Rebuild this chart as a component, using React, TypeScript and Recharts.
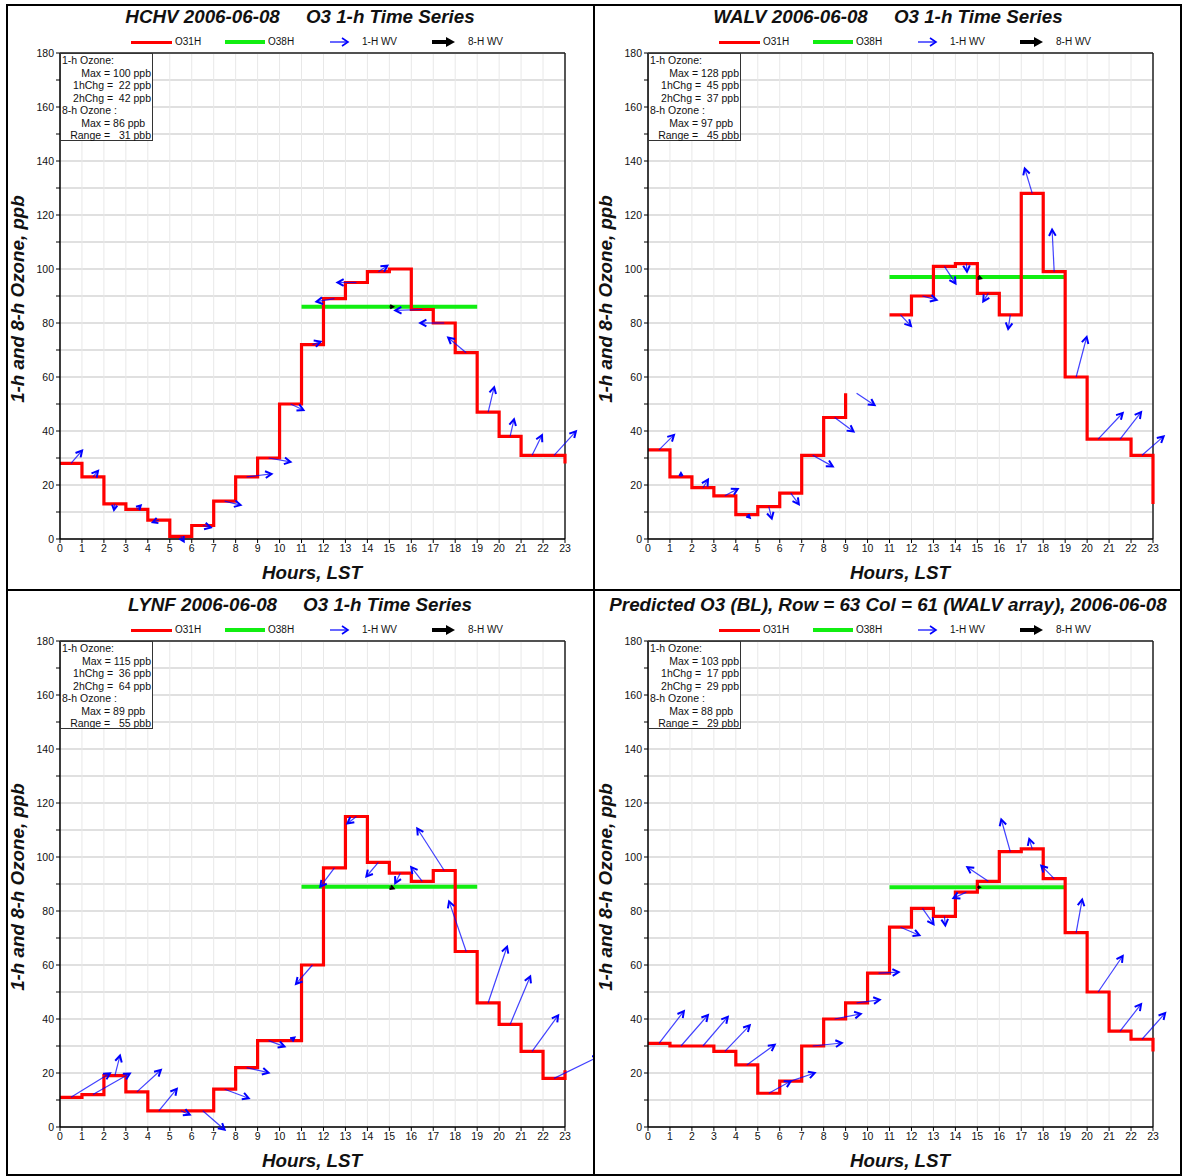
import {
  CartesianGrid,
  ComposedChart,
  Line,
  ReferenceLine,
  Scatter,
  XAxis,
  YAxis,
} from 'recharts';

const HOURS = [0, 1, 2, 3, 4, 5, 6, 7, 8, 9, 10, 11, 12, 13, 14, 15, 16, 17, 18, 19, 20, 21, 22, 23];
const Y_TICKS = [0, 10, 20, 30, 40, 50, 60, 70, 80, 90, 100, 110, 120, 130, 140, 150, 160, 170, 180];
const LEGEND_LABELS = ['O31H', 'O38H', '1-H WV', '8-H WV'];
const X_LABEL = 'Hours, LST';
const Y_LABEL = '1-h and 8-h Ozone, ppb';

// HCHV
const HCHV_O3 = [28, 23, 13, 11, 7, 1, 5, 14, 23, 30, 50, 72, 89, 95, 99, 100, 85, 80, 69, 47, 38, 31, 31, 28];
const HCHV_O8 = 86;
const HCHV_U = [3.7, 1.7, -0.3, 1.3, -2, 1, 2.7, 5.3, 8.3, 7.3, 4.3, 2.7, -6, -6.3, 3, 0, -9, -8, -6, 2, 1.3, 3.3, 7.3];
const HCHV_V = [4.3, 2, -2, 1.3, -0.7, -1.7, -0.7, -1.3, 1, -1.3, -2, 1, -1, 0, 2, 0, -0.3, 0, 5, 8.3, 5.7, 6.7, 8];
const HCHV_WV8 = [1.2, 0];
const HCHV_STATS = [100, 22, 42, 86, 31];

// WALV
const WALV_O3 = [33, 23, 19, 16, 9, 12, 17, 31, 45, 54, null, 83, 90, 101, 102, 91, 83, 128, 99, 60, 37, 37, 31, 13];
const WALV_O8 = 97;
const WALV_U = [5, 0, 1.7, 4.3, 1, 1, 2.7, 6.7, 6.3, 6, null, 3.5, 4.7, 3.7, 0.2, -1.7, -0.7, -2.5, -0.7, 3.5, 8.2, 7, 7.2];
const WALV_V = [5, 1.3, 2.7, 2.3, -1, -4, -3.7, -3.7, -4.7, -4, null, -3.7, -1.3, -5.7, -2.7, -2.7, -4.7, 8.3, 14, 13.3, 8.7, 9, 6.3];
const WALV_WV8 = [1.2, -0.4];
const WALV_STATS = [128, 45, 37, 97, 45];

// LYNF
const LYNF_O3 = [11, 12, 19, 13, 6, 6, 6, 14, 22, 32, 32, 60, 96, 115, 98, 94, 91, 95, 65, 46, 38, 28, 18, 21];
const LYNF_O8 = 89;
const LYNF_U = [13, 12.3, 1.7, 8, 6, 3, 7.3, 8, 7.3, 5.3, 1.3, -5.5, -4.7, -3, -4, -1.7, -3.7, -9, -5.7, 6.3, 6.7, 8.7, 15];
const LYNF_V = [8, 7, 6.7, 7.3, 7.3, -1.3, -6.3, -3, -1.7, -2, 1, -6.3, -6.3, -2.3, -4.7, -3.3, 4.7, 14, 16.7, 18.7, 16, 12, 7.3];
const LYNF_WV8 = [1.4, -0.6];
const LYNF_STATS = [115, 36, 64, 89, 55];

// Predicted (BL)
const PRED_O3 = [31, 30, 30, 28, 23, 12.5, 17, 30, 40, 46, 57, 74, 81, 78, 87, 91, 102, 103, 92, 72, 50, 35.5, 32.5, 28];
const PRED_O8 = 88.8;
const PRED_U = [8.3, 9, 8.3, 8.3, 9.3, 7.3, 8, 9.7, 8.7, 7.7, 6.7, 6.3, 3.7, 0.3, -4.3, -7, -3, -1, -4.3, 2, 8.2, 7, 7.7];
const PRED_V = [10.7, 10.3, 9.7, 8.7, 6.7, 4, 2.7, 1, 1.7, 1, 0.3, -2.7, -5.3, -3, -2, 4.7, 10.7, 3.3, 4.3, 11, 12, 9, 8.7];
const PRED_WV8 = [0.8, 0];
const PRED_STATS = [103, 17, 29, 88, 29];

const PX_PER_MS = 3;
const FONT = '"Liberation Sans", Arial, sans-serif';
const W = 588;
const H = 584;
const M_TOP = 49;
const M_RIGHT = 29;
const Y_W = 54;
const X_H = 49;
const BIG = 18.8;

function WindArrow(props: any) {
  const { cx, cy, payload, color } = props;
  if (cx == null || cy == null) return <g />;
  const dx = payload.u * PX_PER_MS;
  const dy = -payload.v * PX_PER_MS;
  const len = Math.hypot(dx, dy);
  if (len < 1) return <g />;
  const x2 = cx + dx;
  const y2 = cy + dy;
  const ang = Math.atan2(dy, dx);
  const hl = Math.min(7, len * 0.9);
  const a1 = ang + Math.PI - 0.5;
  const a2 = ang + Math.PI + 0.5;
  return (
    <g>
      <line x1={cx} y1={cy} x2={x2} y2={y2} stroke={color} strokeOpacity={0.75} strokeWidth={1.2} />
      <polyline
        points={`${x2 + hl * Math.cos(a1)},${y2 + hl * Math.sin(a1)} ${x2},${y2} ${x2 + hl * Math.cos(a2)},${y2 + hl * Math.sin(a2)}`}
        fill="none"
        stroke={color}
        strokeWidth={2}
      />
    </g>
  );
}

function InfoBox({ stats }: { stats: number[] }) {
  const lines: [string, 'left' | 'right'][] = [
    ['1-h Ozone:', 'left'],
    [`Max = ${stats[0]} ppb`, 'right'],
    [`1hChg =  ${stats[1]} ppb`, 'right'],
    [`2hChg =  ${stats[2]} ppb`, 'right'],
    ['8-h Ozone :', 'left'],
    [`Max = ${stats[3]} ppb  `, 'right'],
    [`Range =   ${stats[4]} pbb`, 'right'],
  ];
  return (
    <div
      style={{
        position: 'absolute',
        left: Y_W,
        top: M_TOP,
        width: 93,
        height: 88,
        boxSizing: 'border-box',
        border: '1px solid #333',
        background: '#fff',
        fontSize: 10.5,
        lineHeight: '12.5px',
        padding: '0 1px 0 1px',
        color: '#111',
      }}
    >
      {lines.map(([t, a], i) => (
        <div key={i} style={{ textAlign: a, whiteSpace: 'pre' }}>
          {t}
        </div>
      ))}
    </div>
  );
}

function Legend() {
  const txt = { position: 'absolute' as const, top: 32, fontSize: 10, lineHeight: '12px', color: '#111' };
  return (
    <>
      <div style={{ position: 'absolute', left: 125, top: 37, width: 41, height: 3, background: '#ff0000' }} />
      <div style={{ ...txt, left: 169 }}>{LEGEND_LABELS[0]}</div>
      <div style={{ position: 'absolute', left: 219, top: 36, width: 40, height: 4, background: '#11ee11' }} />
      <div style={{ ...txt, left: 262 }}>{LEGEND_LABELS[1]}</div>
      <svg style={{ position: 'absolute', left: 322, top: 31 }} width={24} height={14}>
        <line x1={2} y1={7} x2={20} y2={7} stroke="#0000ff" strokeWidth={1.2} />
        <polyline points="14,3 20,7 14,11" fill="none" stroke="#0000ff" strokeWidth={1.6} />
      </svg>
      <div style={{ ...txt, left: 356 }}>{LEGEND_LABELS[2]}</div>
      <svg style={{ position: 'absolute', left: 424, top: 31 }} width={28} height={14}>
        <line x1={2} y1={7} x2={18} y2={7} stroke="#000" strokeWidth={4} />
        <polygon points="16,2 25,7 16,12" fill="#000" />
      </svg>
      <div style={{ ...txt, left: 462 }}>{LEGEND_LABELS[3]}</div>
    </>
  );
}

interface PanelProps {
  left: number;
  top: number;
  title: string;
  o3: (number | null)[];
  o8: number;
  u: (number | null)[];
  v: (number | null)[];
  wv8: number[];
  stats: number[];
}

function Panel({ left, top, title, o3, o8, u, v, wv8, stats }: PanelProps) {
  const data = HOURS.map((h) => ({ x: h, o3: o3[h], o8: h >= 11 && h <= 19 ? o8 : null }));
  const arrows = HOURS.slice(0, 23)
    .map((h) => ({ x: h + 0.5, y: o3[h], u: u[h], v: v[h] }))
    .filter((d) => d.y != null && d.u != null && d.v != null);
  const arrow8 = [{ x: 15, y: o8, u: wv8[0], v: wv8[1] }];
  const bigText = {
    fontSize: BIG,
    fontWeight: 'bold' as const,
    fontStyle: 'italic' as const,
    color: '#111',
  };
  return (
    <div style={{ position: 'absolute', left, top, width: W, height: H }}>
      <ComposedChart width={W} height={H} data={data} margin={{ top: M_TOP, right: M_RIGHT, left: 0, bottom: 0 }}>
        <CartesianGrid vertical={false} stroke="#d6d6d6" strokeWidth={1.5} />
        <CartesianGrid horizontal={false} stroke="#e8e8e8" strokeWidth={1} />
        <XAxis
          type="number"
          dataKey="x"
          domain={[0, 23]}
          ticks={HOURS}
          interval={0}
          height={X_H}
          tickSize={4}
          tick={{ fontSize: 10.5, fill: '#111' }}
          tickLine={{ stroke: '#000' }}
          axisLine={{ stroke: '#000', strokeWidth: 1.5 }}
        />
        <YAxis
          type="number"
          domain={[0, 180]}
          ticks={Y_TICKS}
          interval={0}
          width={Y_W}
          tickSize={4}
          tickFormatter={(t: number) => (t % 20 === 0 ? String(t) : '')}
          tick={{ fontSize: 10.5, fill: '#111' }}
          tickLine={{ stroke: '#000' }}
          axisLine={{ stroke: '#000', strokeWidth: 1.5 }}
        />
        <ReferenceLine y={180} stroke="#222" strokeWidth={1.5} />
        <ReferenceLine x={23} stroke="#222" strokeWidth={1.5} />
        <Line
          type="linear"
          dataKey="o8"
          stroke="#11ee11"
          strokeWidth={4}
          dot={false}
          connectNulls={false}
          isAnimationActive={false}
        />
        <Scatter
          data={arrows}
          dataKey="y"
          isAnimationActive={false}
          shape={(p: any) => <WindArrow {...p} color="#0000ff" />}
        />
        <Scatter
          data={arrow8}
          dataKey="y"
          isAnimationActive={false}
          shape={(p: any) => <WindArrow {...p} color="#000" />}
        />
        <Line
          type="stepAfter"
          dataKey="o3"
          stroke="#ff0000"
          strokeWidth={3.2}
          dot={false}
          connectNulls={false}
          isAnimationActive={false}
        />
      </ComposedChart>
      <div
        style={{
          ...bigText,
          position: 'absolute',
          left: 0,
          top: 2,
          width: W,
          textAlign: 'center',
          lineHeight: '22px',
          whiteSpace: 'pre',
        }}
      >
        {title}
      </div>
      <Legend />
      <InfoBox stats={stats} />
      <div
        style={{
          ...bigText,
          position: 'absolute',
          left: 12 - 150,
          top: 295 - 11,
          width: 300,
          height: 22,
          lineHeight: '22px',
          textAlign: 'center',
          transform: 'rotate(-90deg)',
        }}
      >
        {Y_LABEL}
      </div>
      <div
        style={{
          ...bigText,
          position: 'absolute',
          left: 0,
          top: 558,
          width: 612,
          textAlign: 'center',
          lineHeight: '22px',
        }}
      >
        {X_LABEL}
      </div>
    </div>
  );
}

export default function App() {
  return (
    <div
      style={{
        position: 'absolute',
        left: 0,
        top: 0,
        width: 1183,
        height: 1176,
        background: '#fff',
        fontFamily: FONT,
        overflow: 'hidden',
      }}
    >
      <Panel left={6} top={4} title="HCHV 2006-06-08     O3 1-h Time Series" o3={HCHV_O3} o8={HCHV_O8} u={HCHV_U} v={HCHV_V} wv8={HCHV_WV8} stats={HCHV_STATS} />
      <Panel left={594} top={4} title="WALV 2006-06-08     O3 1-h Time Series" o3={WALV_O3} o8={WALV_O8} u={WALV_U} v={WALV_V} wv8={WALV_WV8} stats={WALV_STATS} />
      <Panel left={6} top={592} title="LYNF 2006-06-08     O3 1-h Time Series" o3={LYNF_O3} o8={LYNF_O8} u={LYNF_U} v={LYNF_V} wv8={LYNF_WV8} stats={LYNF_STATS} />
      <Panel
        left={594}
        top={592}
        title="Predicted O3 (BL), Row = 63 Col = 61 (WALV array), 2006-06-08"
        o3={PRED_O3}
        o8={PRED_O8}
        u={PRED_U}
        v={PRED_V}
        wv8={PRED_WV8}
        stats={PRED_STATS}
      />
      <div style={{ position: 'absolute', left: 6, top: 4, width: 1176, height: 1172, boxSizing: 'border-box', border: '2px solid #000' }} />
      <div style={{ position: 'absolute', left: 593, top: 4, width: 2, height: 1172, background: '#000' }} />
      <div style={{ position: 'absolute', left: 6, top: 589, width: 1176, height: 2, background: '#000' }} />
    </div>
  );
}
